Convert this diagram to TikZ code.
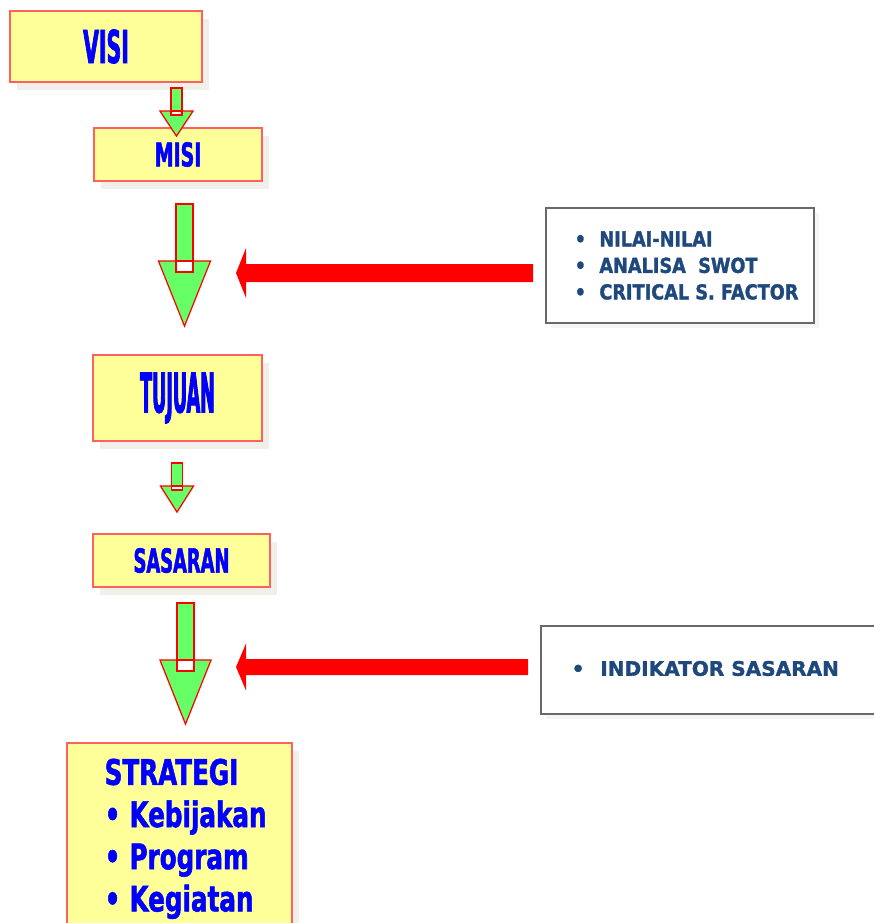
\documentclass[tikz,border=0pt]{standalone}
\usepackage{fontspec}
\setmainfont{DejaVu Sans}
\usetikzlibrary{positioning, calc, shadows}

\definecolor{boxyellow}{RGB}{255,255,153}
\definecolor{boxred}{RGB}{255,96,96}
\definecolor{shadowgrey}{RGB}{240,239,233}
\definecolor{arrowgreen}{RGB}{102,255,102}
\definecolor{navytext}{RGB}{31,73,125}
\definecolor{framegrey}{RGB}{105,105,105}

% condensed heavy lettering: stretch, size, baselineskip
\newcommand{\impfont}[3]{\fontspec{DejaVu Sans}[FakeStretch=#1, FakeBold=1.5]\bfseries\fontsize{#2}{#3}\selectfont}

% block arrow downwards: top, shaft half width, shaft length, head half width, head length, overlap
\newcommand{\greenarrow}[6]{%
    \draw[arrowline, fill=arrowgreen] ($(#1)+(-#4,#3-#6)$) -- ($(#1)+(#4,#3-#6)$) -- ($(#1)+(0,#3-#6+#5)$) -- cycle;
    \draw[arrowline, fill=arrowgreen] ($(#1)+(-#2,0)$) rectangle ($(#1)+(#2,#3-#6)$);
    \draw[arrowline, fill=white] ($(#1)+(-#2,#3-#6)$) rectangle ($(#1)+(#2,#3)$);
}

% block arrow to the left: tail, tip, shaft half width, head half width
\newcommand{\redarrow}[4]{%
    \fill[red] ($(#1)+(0,-#3)$) -- ($(#2)+(10,-#3)$) -- ($(#2)+(10,-#4)$)
        -- (#2) -- ($(#2)+(10,#4)$)
        -- ($(#2)+(10,#3)$) -- ($(#1)+(0,#3)$) -- cycle;
}

\begin{document}
\begin{tikzpicture}[
        x=0.01cm, y=-0.01cm,
        arrowline/.style={draw=red, line width=0.35pt},
        yellowbox/.style={draw=boxred, line width=0.6pt, fill=boxyellow, text=blue, inner sep=0pt,
            drop shadow={shadow xshift=0.07cm, shadow yshift=-0.08cm, fill=shadowgrey, opacity=1}},
        framebox/.style={draw=framegrey, line width=0.5pt, fill=white, inner sep=0pt,
            drop shadow={shadow xshift=0.05cm, shadow yshift=-0.05cm, fill=black!4, opacity=1}},
        listtext/.style={text=navytext, align=left, inner sep=0pt}
    ]

    \useasboundingbox (0,0) rectangle (874,923);

    % ========================================================
    % 1. KOTAK KUNING (KIRI)
    % ========================================================
    \node[yellowbox, minimum width=1.92cm, minimum height=0.71cm, font=\impfont{0.45}{12.9}{15}] (visi) at (106,46.5) {VISI};
    \node[yellowbox, minimum width=1.68cm, minimum height=0.53cm, font=\impfont{0.58}{9.3}{11}] (misi) at (178,154.5) {MISI};
    \node[yellowbox, minimum width=1.69cm, minimum height=0.86cm, font=\impfont{0.32}{15.6}{18}] (tujuan) at (177.5,398) {TUJUAN};
    \node[yellowbox, minimum width=1.77cm, minimum height=0.53cm, font=\impfont{0.54}{9.4}{11}] (sasaran) at (181.5,560.5) {SASARAN};
    \node[yellowbox, anchor=north west, minimum width=2.25cm, minimum height=2.0cm] (strategi) at (66,742) {};
    \node[anchor=north west, align=left, text=blue, inner sep=0pt, font=\impfont{0.7}{10}{12}] (strategitext)
        at ($(strategi.north west)+(38,16)$)
        {STRATEGI\\ \textbullet\hspace{2.6pt}Kebijakan\\ \textbullet\hspace{2.6pt}Program\\ \textbullet\hspace{2.6pt}Kegiatan};

    % ========================================================
    % 2. KOTAK FAKTOR (KANAN)
    % ========================================================
    \node[framebox, minimum width=2.68cm, minimum height=1.15cm] (nilai) at (680,265.5) {};
    \node[listtext, anchor=west, font=\impfont{0.86}{5.85}{7.54}] (nilaitext) at ($(nilai.west)+(29,0)$)
        {\textbullet\hspace{3.8pt}NILAI-NILAI\\ \textbullet\hspace{3.8pt}ANALISA\ \ SWOT\\ \textbullet\hspace{3.8pt}CRITICAL S. FACTOR};

    \node[framebox, minimum width=3.48cm, minimum height=0.88cm] (indikator) at (715,670) {};
    \node[listtext, anchor=west, font=\impfont{1.0}{5.7}{7}] (indikatortext) at ($(indikator.west)+(31,-1.5)$)
        {\textbullet\hspace{4.5pt}INDIKATOR SASARAN};

    % ========================================================
    % 3. PANAH HIJAU (ALUR)
    % ========================================================
    \coordinate (g1) at ($(visi.south -| misi.north)+(-1.5,5)$);
    \coordinate (g2) at ($(misi.south)+(6.5,22)$);
    \coordinate (g3) at ($(tujuan.south)+(-0.5,21)$);
    \coordinate (g4) at ($(sasaran.south)+(4,15)$);

    \greenarrow{g1}{5.5}{27}{16.5}{25}{4}
    \greenarrow{g2}{8.5}{68}{26}{65}{11}
    \greenarrow{g3}{5.5}{27}{16.5}{26}{4}
    \greenarrow{g4}{8.5}{68}{25.5}{64}{11}

    % ========================================================
    % 4. PANAH MERAH (MASUKAN)
    % ========================================================
    \coordinate (r1tail) at ($(nilai.west)+(-12,7.5)$);
    \coordinate (r1tip) at ($(r1tail)+(-297,0)$);
    \redarrow{r1tail}{r1tip}{9}{25}

    \coordinate (r2tail) at ($(indikator.west)+(-12,-3)$);
    \coordinate (r2tip) at ($(r2tail)+(-292,0)$);
    \redarrow{r2tail}{r2tip}{8}{23.5}

\end{tikzpicture}
\end{document}
